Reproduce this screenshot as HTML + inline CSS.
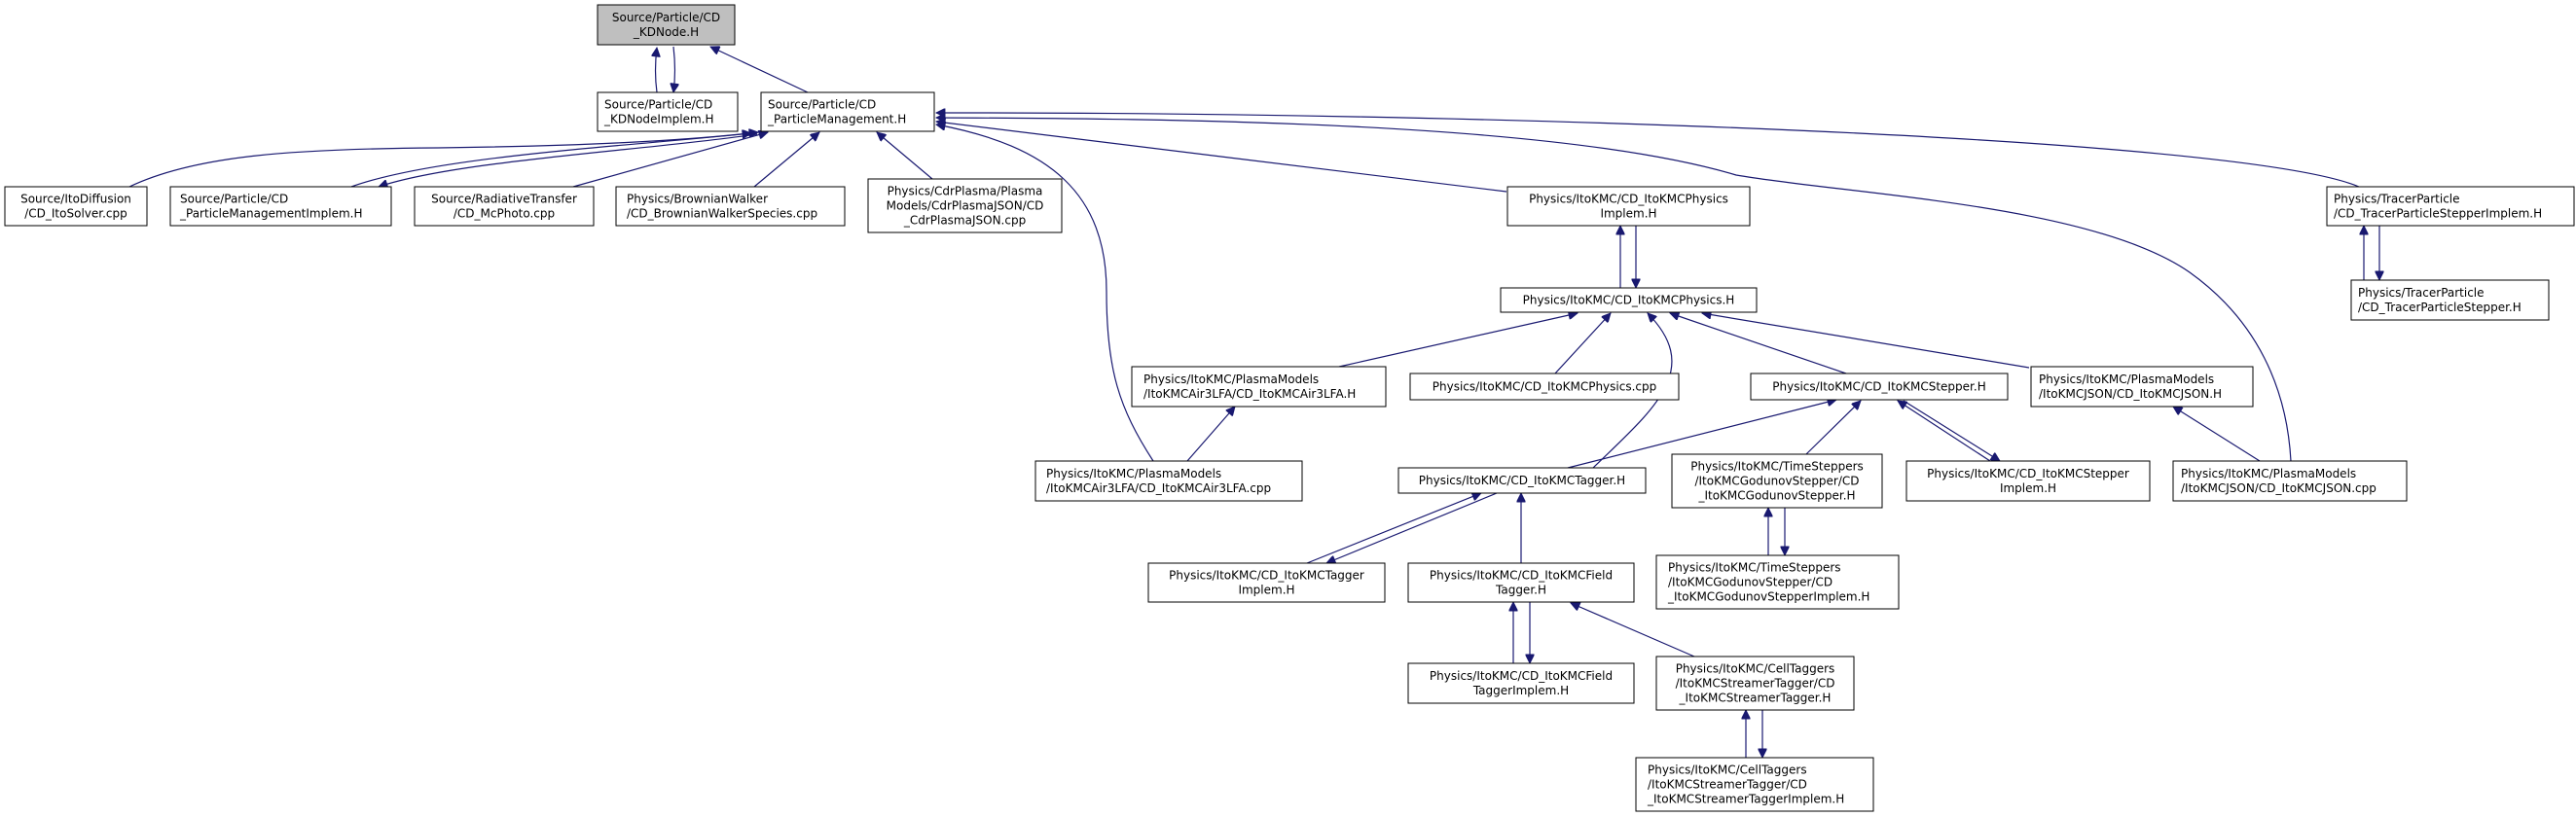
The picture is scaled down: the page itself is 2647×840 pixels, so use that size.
<!DOCTYPE html>
<html><head><meta charset="utf-8"><style>
html,body{margin:0;padding:0;background:#fff;}
svg{display:block;}
text{font-family:"DejaVu Sans","Liberation Sans",sans-serif;font-size:12px;fill:#000;}
.b{fill:#fff;stroke:#000;stroke-width:1;}
.e{fill:none;stroke:#191970;stroke-width:1.2;marker-end:url(#a);}
.c{text-anchor:middle;}
</style></head><body>
<svg width="2647" height="840" viewBox="0 0 2647 840" xmlns="http://www.w3.org/2000/svg">
<defs><marker id="a" viewBox="0 0 10 10" refX="10" refY="5" markerUnits="userSpaceOnUse" markerWidth="11" markerHeight="9" orient="auto"><path d="M0,0 L10,5 L0,10 z" fill="#191970" stroke="#191970"/></marker></defs>

<!-- edges -->
<path class="e" d="M675,95 C673,80 673,65 675,49"/>
<path class="e" d="M692,48 C694,65 694,80 692,95"/>
<path class="e" d="M830,95 L730,48"/>
<path class="e" d="M133,192 C200,160 300,153 450,152 C600,150 700,145 779,136"/>
<path class="e" d="M361,192 C450,160 650,150 772,137"/>
<path class="e" d="M778,138 C660,155 470,165 389,192"/>
<path class="e" d="M589,192 L789,136"/>
<path class="e" d="M775,192 L842,136"/>
<path class="e" d="M958,184 L901,136"/>
<path class="e" d="M1548,197 L962,125"/>
<path class="e" d="M2424,192 C2300,140 1500,115 962,116"/>
<path class="e" d="M2354,474 C2350,400 2320,330 2250,280 C2150,210 1900,200 1784,180 C1600,125 1200,122 962,121"/>
<path class="e" d="M1185,474 C1150,420 1137,380 1137,300 C1137,200 1080,150 962,128"/>
<path class="e" d="M1665,296 L1665,232"/>
<path class="e" d="M1681,232 L1681,296"/>
<path class="e" d="M1376,377 L1621,322"/>
<path class="e" d="M1598,384 L1655,322"/>
<path class="e" d="M1637,481 C1700,420 1750,380 1693,322"/>
<path class="e" d="M1897,384 L1716,322"/>
<path class="e" d="M2085,378 L1749,322"/>
<path class="e" d="M1220,474 L1269,418"/>
<path class="e" d="M1611,481 L1887,411"/>
<path class="e" d="M1856,467 L1912,412"/>
<path class="e" d="M2045,474 L1950,412"/>
<path class="e" d="M1956,412 L2055,474"/>
<path class="e" d="M2322,474 L2233,418"/>
<path class="e" d="M2429,288 L2429,232"/>
<path class="e" d="M2445,232 L2445,288"/>
<path class="e" d="M1343,579 L1522,507"/>
<path class="e" d="M1538,507 L1363,579"/>
<path class="e" d="M1563,579 L1563,507"/>
<path class="e" d="M1817,571 L1817,522"/>
<path class="e" d="M1834,522 L1834,571"/>
<path class="e" d="M1555,682 L1555,619"/>
<path class="e" d="M1572,619 L1572,682"/>
<path class="e" d="M1741,675 L1614,620"/>
<path class="e" d="M1794,779 L1794,730"/>
<path class="e" d="M1811,730 L1811,779"/>

<!-- nodes -->
<rect x="614" y="5" width="141" height="41" fill="#bfbfbf" stroke="#000"/>
<text class="c" x="684.5" y="22">Source/Particle/CD</text><text class="c" x="684.5" y="37">_KDNode.H</text>

<rect class="b" x="614" y="95" width="144" height="40"/>
<text x="621" y="111.5">Source/Particle/CD</text><text x="621" y="126.5">_KDNodeImplem.H</text>

<rect class="b" x="782" y="95" width="178" height="40"/>
<text x="789" y="111.5">Source/Particle/CD</text><text x="789" y="126.5">_ParticleManagement.H</text>

<rect class="b" x="5" y="192" width="146" height="40"/>
<text class="c" x="78" y="208.5">Source/ItoDiffusion</text><text class="c" x="78" y="223.5">/CD_ItoSolver.cpp</text>

<rect class="b" x="175" y="192" width="227" height="40"/>
<text x="185" y="208.5">Source/Particle/CD</text><text x="185" y="223.5">_ParticleManagementImplem.H</text>

<rect class="b" x="426" y="192" width="184" height="40"/>
<text class="c" x="518" y="208.5">Source/RadiativeTransfer</text><text class="c" x="518" y="223.5">/CD_McPhoto.cpp</text>

<rect class="b" x="633" y="192" width="235" height="40"/>
<text x="644" y="208.5">Physics/BrownianWalker</text><text x="644" y="223.5">/CD_BrownianWalkerSpecies.cpp</text>

<rect class="b" x="892" y="184" width="199" height="55"/>
<text class="c" x="991.5" y="200.5">Physics/CdrPlasma/Plasma</text><text class="c" x="991.5" y="215.5">Models/CdrPlasmaJSON/CD</text><text class="c" x="991.5" y="230.5">_CdrPlasmaJSON.cpp</text>

<rect class="b" x="1549" y="192" width="249" height="40"/>
<text class="c" x="1673.5" y="208.5">Physics/ItoKMC/CD_ItoKMCPhysics</text><text class="c" x="1673.5" y="223.5">Implem.H</text>

<rect class="b" x="2391" y="192" width="254" height="40"/>
<text x="2398" y="208.5">Physics/TracerParticle</text><text x="2398" y="223.5">/CD_TracerParticleStepperImplem.H</text>

<rect class="b" x="1542" y="296" width="263" height="25"/>
<text class="c" x="1673.5" y="312.5">Physics/ItoKMC/CD_ItoKMCPhysics.H</text>

<rect class="b" x="2416" y="288" width="203" height="41"/>
<text x="2423" y="305">Physics/TracerParticle</text><text x="2423" y="320">/CD_TracerParticleStepper.H</text>

<rect class="b" x="1163" y="377" width="261" height="41"/>
<text x="1175" y="394">Physics/ItoKMC/PlasmaModels</text><text x="1175" y="409">/ItoKMCAir3LFA/CD_ItoKMCAir3LFA.H</text>

<rect class="b" x="1449" y="384" width="276" height="27"/>
<text class="c" x="1587" y="401.5">Physics/ItoKMC/CD_ItoKMCPhysics.cpp</text>

<rect class="b" x="1799" y="384" width="264" height="27"/>
<text class="c" x="1931" y="401.5">Physics/ItoKMC/CD_ItoKMCStepper.H</text>

<rect class="b" x="2087" y="377" width="228" height="41"/>
<text x="2095" y="394">Physics/ItoKMC/PlasmaModels</text><text x="2095" y="409">/ItoKMCJSON/CD_ItoKMCJSON.H</text>

<rect class="b" x="1064" y="474" width="274" height="41"/>
<text x="1075" y="491">Physics/ItoKMC/PlasmaModels</text><text x="1075" y="506">/ItoKMCAir3LFA/CD_ItoKMCAir3LFA.cpp</text>

<rect class="b" x="1437" y="481" width="254" height="26"/>
<text class="c" x="1564" y="498">Physics/ItoKMC/CD_ItoKMCTagger.H</text>

<rect class="b" x="1718" y="467" width="216" height="55"/>
<text class="c" x="1826" y="483.5">Physics/ItoKMC/TimeSteppers</text><text class="c" x="1826" y="498.5">/ItoKMCGodunovStepper/CD</text><text class="c" x="1826" y="513.5">_ItoKMCGodunovStepper.H</text>

<rect class="b" x="1959" y="474" width="250" height="41"/>
<text class="c" x="2084" y="491">Physics/ItoKMC/CD_ItoKMCStepper</text><text class="c" x="2084" y="506">Implem.H</text>

<rect class="b" x="2233" y="474" width="240" height="41"/>
<text x="2241" y="491">Physics/ItoKMC/PlasmaModels</text><text x="2241" y="506">/ItoKMCJSON/CD_ItoKMCJSON.cpp</text>

<rect class="b" x="1180" y="579" width="243" height="40"/>
<text class="c" x="1301.5" y="595.5">Physics/ItoKMC/CD_ItoKMCTagger</text><text class="c" x="1301.5" y="610.5">Implem.H</text>

<rect class="b" x="1447" y="579" width="232" height="40"/>
<text class="c" x="1563" y="595.5">Physics/ItoKMC/CD_ItoKMCField</text><text class="c" x="1563" y="610.5">Tagger.H</text>

<rect class="b" x="1702" y="571" width="249" height="55"/>
<text x="1714" y="587.5">Physics/ItoKMC/TimeSteppers</text><text x="1714" y="602.5">/ItoKMCGodunovStepper/CD</text><text x="1714" y="617.5">_ItoKMCGodunovStepperImplem.H</text>

<rect class="b" x="1447" y="682" width="232" height="41"/>
<text class="c" x="1563" y="699">Physics/ItoKMC/CD_ItoKMCField</text><text class="c" x="1563" y="714">TaggerImplem.H</text>

<rect class="b" x="1702" y="675" width="203" height="55"/>
<text class="c" x="1803.5" y="691.5">Physics/ItoKMC/CellTaggers</text><text class="c" x="1803.5" y="706.5">/ItoKMCStreamerTagger/CD</text><text class="c" x="1803.5" y="721.5">_ItoKMCStreamerTagger.H</text>

<rect class="b" x="1681" y="779" width="244" height="55"/>
<text x="1693" y="795.5">Physics/ItoKMC/CellTaggers</text><text x="1693" y="810.5">/ItoKMCStreamerTagger/CD</text><text x="1693" y="825.5">_ItoKMCStreamerTaggerImplem.H</text>
</svg>
</body></html>
